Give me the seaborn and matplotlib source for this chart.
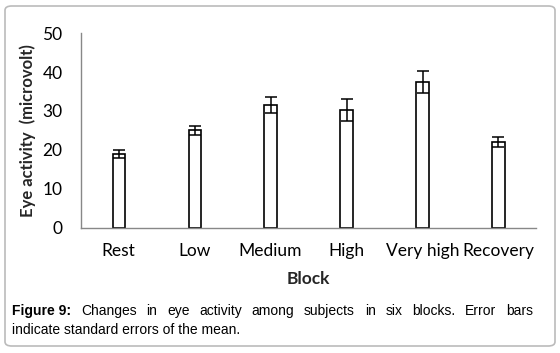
import matplotlib
matplotlib.use("Agg")
import matplotlib.pyplot as plt
from matplotlib.patches import FancyBboxPatch
import seaborn as sns
import pandas as pd

# values
blocks = ["Rest", "Low", "Medium", "High", "Very high", "Recovery"]
means = [18.9, 25.0, 31.5, 30.2, 37.4, 22.0]
sems = [1.0, 1.2, 2.0, 2.8, 2.8, 1.3]

df = pd.DataFrame({"Block": blocks, "Eye": means, "SE": sems})

sns.set_style("white")
plt.rcParams["font.family"] = ["Lato", "DejaVu Sans"]

fig = plt.figure(figsize=(5.6, 3.53), dpi=100)
ax = fig.add_axes([0.144, 0.355, 0.814, 0.551])

sns.barplot(data=df, x="Block", y="Eye", width=0.16, color="white",
            edgecolor="black", linewidth=1.2, errorbar=None, ax=ax)
ax.errorbar(range(len(blocks)), df["Eye"], yerr=df["SE"], fmt="none",
            ecolor="black", elinewidth=1.1, capsize=4, capthick=1.1)

ax.set_xlim(-0.5, 5.5)
ax.set_ylim(0, 50)
ax.set_yticks([0, 10, 20, 30, 40, 50])
ax.tick_params(axis="both", length=0, labelsize=12.5, colors="black")
ax.tick_params(axis="y", pad=13)
ax.tick_params(axis="x", pad=11)
for s in ["top", "right"]:
    ax.spines[s].set_visible(False)
for s in ["left", "bottom"]:
    ax.spines[s].set_color("#888888")
    ax.spines[s].set_linewidth(1.0)
ax.set_xlabel("Block", fontsize=12.5, fontweight="bold", labelpad=9)
ax.set_ylabel("Eye activity  (microvolt)", fontsize=12, fontweight="bold", labelpad=5)

# rounded frame around the panel
frame = FancyBboxPatch((5 / 560, 7 / 353), 550 / 560, 340 / 353,
                       boxstyle="round,pad=0,rounding_size=0.012",
                       transform=fig.transFigure, facecolor="none",
                       edgecolor="#bbbbbb", linewidth=1.2)
fig.patches.append(frame)

# caption, first line justified between the frame margins
cap = dict(fontsize=10, family=["Liberation Sans", "DejaVu Sans"], color="black",
           va="center")
line1 = ["Figure 9:", "Changes", "in", "eye", "activity", "among", "subjects",
         "in", "six", "blocks.", "Error", "bars"]
x0, x1, y1 = 12, 533, 1 - 311 / 353
fig.canvas.draw()
r = fig.canvas.get_renderer()
texts = []
for i, w in enumerate(line1):
    t = fig.text(0, y1, w, fontweight="bold" if i == 0 else "normal", **cap)
    texts.append(t)
widths = [t.get_window_extent(r).width for t in texts]
gap = (x1 - x0 - sum(widths)) / (len(widths) - 1)
x = x0
for t, w in zip(texts, widths):
    t.set_x(x / 560)
    x += w + gap
fig.text(12 / 560, 1 - 330 / 353, "indicate standard errors of the mean.", **cap)

fig.savefig("out.png", dpi=100)
